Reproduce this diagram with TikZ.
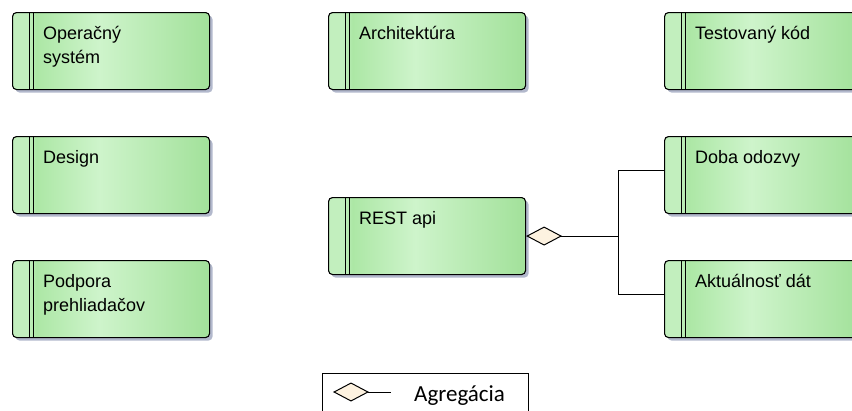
\documentclass[tikz,border=0pt]{standalone}
\usepackage{fontspec}
\setmainfont{Liberation Sans}
\newfontfamily\legendafont{Carlito}
\usetikzlibrary{arrows.meta,shadows}

\definecolor{zelena1}{RGB}{194,239,190}
\definecolor{zelena2}{RGB}{172,231,165}
\definecolor{zelena3}{RGB}{206,244,203}
\definecolor{zelena4}{RGB}{162,225,154}
\definecolor{tien}{RGB}{178,184,204}
\definecolor{krem}{RGB}{253,242,224}
\pgfdeclarehorizontalshading{zelenka}{100bp}{color(0bp)=(zelena1); color(29bp)=(zelena1); color(31bp)=(zelena2); color(47bp)=(zelena3); color(75bp)=(zelena4); color(100bp)=(zelena4)}

\begin{document}
\begin{tikzpicture}[x=1pt,y=-1pt,
    trieda/.style={rectangle,draw=black,line width=1.1pt,rounded corners=4pt,
        minimum width=197pt,minimum height=77pt,inner sep=0pt,anchor=north west,
        shading=zelenka,
        drop shadow={shadow xshift=3pt,shadow yshift=-3pt,fill=tien,opacity=1},
        path picture={\draw[line width=1pt]
            ([xshift=17pt]path picture bounding box.north west) -- ([xshift=17pt]path picture bounding box.south west)
            ([xshift=21pt]path picture bounding box.north west) -- ([xshift=21pt]path picture bounding box.south west);}},
    popis/.style={anchor=base west,align=left,inner sep=0pt,
        font=\fontsize{18pt}{24.5pt}\selectfont},
    spoj/.style={draw=black,line width=1pt},
    agregacia/.style={{Diamond[length=36pt,width=19pt,fill=krem,line width=1pt]}-},
    legenda/.style={rectangle,draw=black,line width=1pt,fill=white,
        minimum width=206pt,minimum height=60pt,anchor=north west}]
\useasboundingbox (0,0) rectangle (852,410);

% triedy
\begin{scope}[every node/.style={trieda}]
    \node (os) at (12,12) {};
    \node (design) at (12,136) {};
    \node (podpora) at (12,260) {};
    \node (arch) at (328,12) {};
    \node (rest) at (328,197) {};
    \node (test) at (664,12) {};
    \node (doba) at (664,136) {};
    \node (akt) at (664,260) {};
\end{scope}

% popisy (base = posledny riadok)
\begin{scope}[every node/.style={popis}]
    \node (os-t) at ([shift={(31pt,-51.5pt)}]os.north west) {Operačný\\systém};
    \node (design-t) at ([shift={(31pt,-27pt)}]design.north west) {Design};
    \node (podpora-t) at ([shift={(31pt,-51.5pt)}]podpora.north west) {Podpora\\prehliadačov};
    \node (arch-t) at ([shift={(31pt,-27pt)}]arch.north west) {Architektúra};
    \node (rest-t) at ([shift={(31pt,-27pt)}]rest.north west) {REST api};
    \node (test-t) at ([shift={(31pt,-27pt)}]test.north west) {Testovaný kód};
    \node (doba-t) at ([shift={(31pt,-27pt)}]doba.north west) {Doba odozvy};
    \node (akt-t) at ([shift={(31pt,-27pt)}]akt.north west) {Aktuálnosť dát};
\end{scope}

% spojenia
\draw[spoj,agregacia] (rest.east) -- ++(92pt,0) coordinate (uzol);
\draw[spoj] (uzol) |- ([yshift=5pt]doba.west);
\draw[spoj] (uzol) |- ([yshift=5pt]akt.west);

% legenda
\node[legenda] (leg) at (322,373) {};
\coordinate (leg-a) at (333,392);
\coordinate (leg-b) at (391,392);
\draw[spoj,agregacia] (leg-a) -- (leg-b);
\node[anchor=base west,inner sep=0pt,font=\legendafont\fontsize{23pt}{28pt}\selectfont] (leg-t) at (414,401) {Agregácia};
\end{tikzpicture}
\end{document}
